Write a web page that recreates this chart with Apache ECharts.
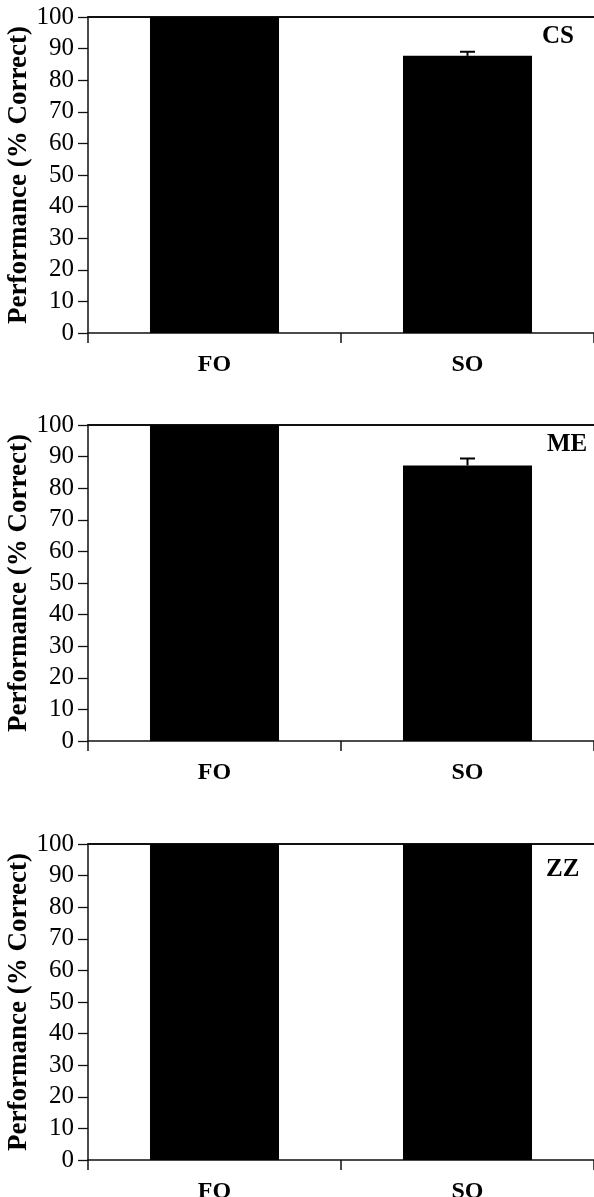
<!DOCTYPE html>
<html><head><meta charset="utf-8">
<script src="https://cdn.jsdelivr.net/npm/echarts@6/dist/echarts.min.js"></script>
<style>html,body{margin:0;padding:0;background:#fff}#c{width:594px;height:1197px}</style>
</head><body><div id="c"></div>
<script>
const categories = ['FO', 'SO'];
const panelNames = ['CS', 'ME', 'ZZ'];
const csMeans = [100, 87.7];
const csErrors = [0, 1.3];
const meMeans = [100, 87.2];
const meErrors = [0, 2.2];
const zzMeans = [100, 100];
const zzErrors = [0, 0];
const yMin = 0, yMax = 100, yStep = 10;
const yTitle = 'Performance (% Correct)';

const means = [csMeans, meMeans, zzMeans];
const errors = [csErrors, meErrors, zzErrors];
const gridTops = [17, 425, 844];
const labelPos = [{left: 542, top: 24}, {left: 547, top: 432}, {left: 546, top: 857}];
const FONT = 'Liberation Serif, Times New Roman, serif';

const grid = [], xAxis = [], yAxis = [], series = [], title = [];
panelNames.forEach((name, i) => {
  grid.push({left: 88, right: 0, top: gridTops[i], height: 316, containLabel: false, outerBoundsMode: 'none'});
  xAxis.push({
    type: 'category', gridIndex: i, data: categories, position: 'bottom',
    axisLine: {show: true, lineStyle: {color: '#111', width: 1.5}},
    axisTick: {show: true, inside: false, length: 10, lineStyle: {color: '#111', width: 1.5}},
    axisLabel: {margin: 20, color: '#000', fontFamily: FONT, fontWeight: 'bold', fontSize: 24},
    splitLine: {show: false}
  });
  xAxis.push({
    type: 'category', gridIndex: i, data: categories, position: 'top',
    axisLine: {show: true, lineStyle: {color: '#111', width: 1.8}},
    axisTick: {show: false}, axisLabel: {show: false}, splitLine: {show: false}
  });
  yAxis.push({
    type: 'value', gridIndex: i, min: yMin, max: yMax, interval: yStep,
    name: yTitle, nameLocation: 'middle', nameGap: 55, nameRotate: 90, nameMoveOverlap: false,
    nameTextStyle: {color: '#000', fontFamily: FONT, fontWeight: 'bold', fontSize: 27},
    axisLine: {show: true, lineStyle: {color: '#111', width: 1.5}},
    axisTick: {show: true, length: 10, lineStyle: {color: '#111', width: 1.3}},
    axisLabel: {margin: 14, color: '#000', fontFamily: FONT, fontSize: 25},
    splitLine: {show: false}
  });
  series.push({
    type: 'bar', xAxisIndex: i * 2, yAxisIndex: i, data: means[i],
    barWidth: '51%', itemStyle: {color: '#000'}, silent: true
  });
  const errData = means[i].map((m, k) => [k, m, errors[i][k]]).filter(d => d[2] > 0);
  series.push({
    type: 'custom', xAxisIndex: i * 2, yAxisIndex: i, data: errData, silent: true, z: 5,
    renderItem: function (params, api) {
      const base = api.coord([api.value(0), api.value(1)]);
      const top = api.coord([api.value(0), api.value(1) + api.value(2)]);
      const hw = 7.5;
      const st = {stroke: '#000', lineWidth: 2};
      return {type: 'group', children: [
        {type: 'line', shape: {x1: base[0], y1: base[1], x2: top[0], y2: top[1]}, style: st},
        {type: 'line', shape: {x1: top[0] - hw, y1: top[1], x2: top[0] + hw, y2: top[1]}, style: st}
      ]};
    }
  });
  title.push({text: name, left: labelPos[i].left, top: labelPos[i].top, padding: 0,
    textStyle: {color: '#000', fontFamily: FONT, fontWeight: 'bold', fontSize: 25}});
});

const chart = echarts.init(document.getElementById('c'), null, {renderer: 'canvas'});
chart.setOption({animation: false, backgroundColor: '#fff', title, grid, xAxis, yAxis, series});
</script></body></html>
